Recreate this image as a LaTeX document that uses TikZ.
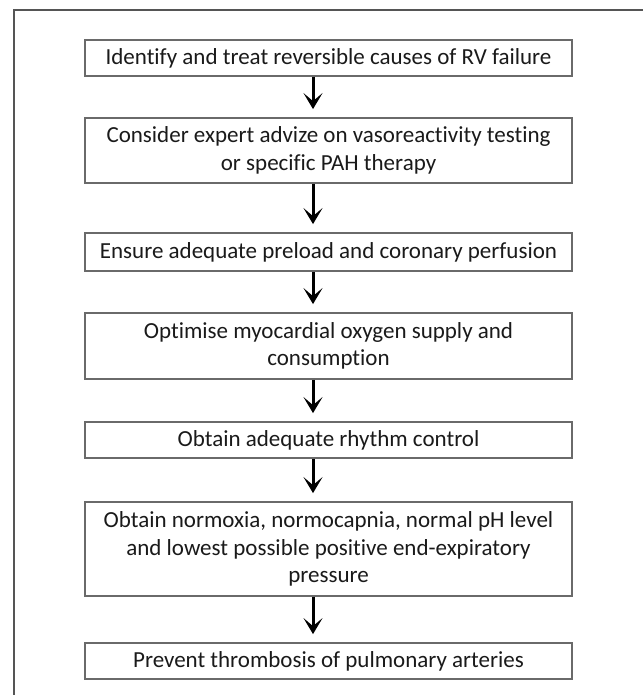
\documentclass[tikz,border=0pt]{standalone}
\usepackage{fontspec}
\setmainfont{Carlito}[Ligatures={NoCommon}]
\usetikzlibrary{arrows.meta}
\definecolor{boxgray}{HTML}{6A6A6A}
\definecolor{framegray}{HTML}{555555}
\definecolor{txt}{HTML}{1A1A1A}
\begin{document}
\begin{tikzpicture}[x=1pt,y=-1pt,
  stepbox/.style={draw=boxgray, line width=1.8pt, rectangle, minimum width=487pt,
    inner sep=0pt, align=center, text=txt,
    font=\fontsize{23}{27.5}\selectfont},
  arr/.style={line width=3pt, -{Stealth[length=16pt,width=19pt,inset=8pt]}}]
\useasboundingbox (0,0) rectangle (643,695);
\fill[white] (0,0) rectangle (643,695);
\draw[framegray, line width=1.5pt] (14,695) -- (14,10) -- (643,10);
\node[stepbox, minimum height=36pt] (b1) at (328.5,58) {Identify and treat reversible causes of RV failure};
\node[stepbox, minimum height=65pt] (b2) at (328.5,150.5) {Consider expert advize on vasoreactivity testing\\or specific PAH therapy};
\node[stepbox, minimum height=38pt] (b3) at (328.5,252) {Ensure adequate preload and coronary perfusion};
\node[stepbox, minimum height=66pt] (b4) at (328.5,346) {Optimise myocardial oxygen supply and\\consumption};
\node[stepbox, minimum height=36pt] (b5) at (328.5,440) {Obtain adequate rhythm control};
\node[stepbox, minimum height=94pt] (b6) at (328.5,549) {Obtain normoxia, normocapnia, normal pH level\\and lowest possible positive end-expiratory\\pressure};
\node[stepbox, minimum height=36pt] (b7) at (328.5,661) {Prevent thrombosis of pulmonary arteries};
\coordinate (ax) at (313,0);
\foreach \a/\b in {b1/b2,b2/b3,b3/b4,b4/b5,b5/b6,b6/b7}{
  \draw[arr] (\a.south -| ax) -- ([yshift=8pt]\b.north -| ax);
}
\end{tikzpicture}
\end{document}
